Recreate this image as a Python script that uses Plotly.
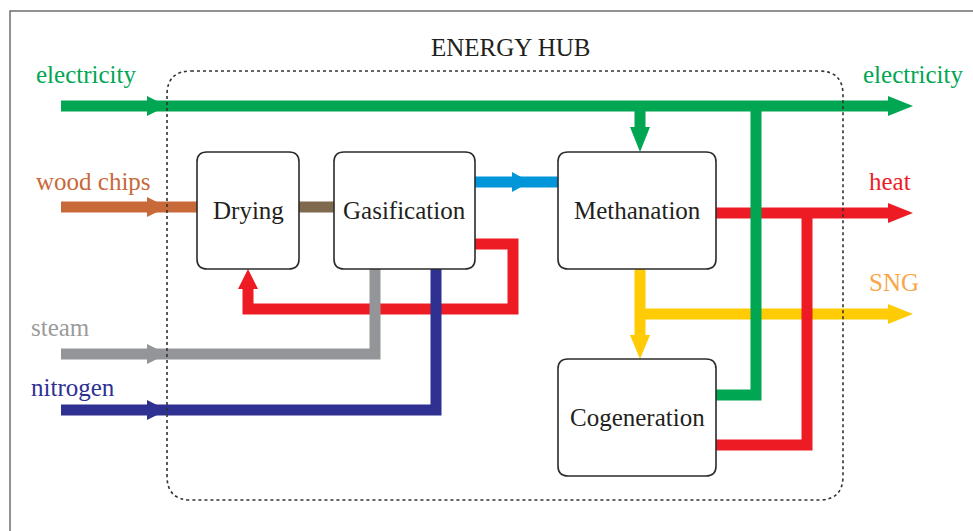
import plotly.graph_objects as go

# ---------------- data ----------------
W, H = 973, 531
FONT = "Liberation Serif, Times New Roman, serif"
FONT_SIZE = 25

# colours
GREEN = "#00A651"
ORANGE = "#C8693A"
BROWN = "#7F6A4F"
BLUE = "#0096D9"
RED = "#ED1C24"
GREY = "#939598"
NAVY = "#2E3192"
YELLOW = "#FFCB05"

# process boxes: name, x0, y0, x1, y1
box_names = ["Drying", "Gasification", "Methanation", "Cogeneration"]
box_x0 = [197, 334, 558, 558]
box_y0 = [152, 152, 152, 359]
box_x1 = [299, 475, 716, 716]
box_y1 = [269, 269, 269, 476]

# energy hub border
hub_x0, hub_y0, hub_x1, hub_y1 = 167, 71, 843, 500

# flows (centre lines), drawn in list order (later on top)
flow_colors = [YELLOW, RED, RED, GREEN, GREEN, GREEN,
               ORANGE, BROWN, BLUE, RED, GREY, NAVY, YELLOW]
flow_x = [
    [640, 890],                 # SNG out
    [716, 890],                 # heat out
    [716, 807, 807],            # heat from cogeneration
    [716, 756, 756],            # electricity from cogeneration
    [61, 890],                  # electricity main
    [640, 640],                 # electricity to methanation
    [61, 197],                  # wood chips
    [299, 334],                 # drying -> gasification
    [475, 558],                 # gasification -> methanation
    [475, 513, 513, 248, 248],  # heat loop to drying
    [375, 375, 61],             # steam
    [436, 436, 61],             # nitrogen
    [640, 640],                 # SNG to cogeneration
]
flow_y = [
    [314, 314],
    [213, 213],
    [445, 445, 213],
    [395, 395, 106],
    [106, 106],
    [106, 130],
    [207, 207],
    [207, 207],
    [182, 182],
    [244, 244, 309, 309, 289],
    [269, 354, 354],
    [269, 410, 410],
    [269, 337],
]

# arrow heads: tip x, tip y, direction, colour, length
arrow_x = [913, 913, 913, 640, 167, 167, 530, 248, 167, 167, 640]
arrow_y = [314, 213, 106, 152, 106, 207, 182, 269, 354, 410, 359]
arrow_dir = ["r", "r", "r", "d", "r", "r", "r", "u", "r", "r", "d"]
arrow_col = [YELLOW, RED, GREEN, GREEN, GREEN, ORANGE, BLUE, RED, GREY, NAVY, YELLOW]
arrow_len = [25, 25, 25, 25, 20, 20, 18, 20, 20, 20, 24]

# stream labels
label_text = ["electricity", "wood chips", "steam", "nitrogen",
              "electricity", "heat", "SNG"]
label_x = [34, 34, 29, 29, 861, 867, 867]
label_y = [74, 181, 327, 387, 74, 181, 282]
label_col = [GREEN, ORANGE, "#9B9B9B", NAVY, GREEN, RED, "#F9A64A"]

title_text = "ENERGY HUB"
title_x, title_y = 511, 47

LINE_W = 11
HALF_HEAD = 10

# ---------------- figure ----------------
fig = go.Figure()


def rrect(x0, y0, x1, y1, r):
    return (f"M{x0+r},{y0} L{x1-r},{y0} Q{x1},{y0} {x1},{y0+r} "
            f"L{x1},{y1-r} Q{x1},{y1} {x1-r},{y1} L{x0+r},{y1} "
            f"Q{x0},{y1} {x0},{y1-r} L{x0},{y0+r} Q{x0},{y0} {x0+r},{y0} Z")


def head(tx, ty, d, L, w):
    if d == "r":
        return [tx - L, tx, tx - L, tx - L], [ty - w, ty, ty + w, ty - w]
    if d == "l":
        return [tx + L, tx, tx + L, tx + L], [ty - w, ty, ty + w, ty - w]
    if d == "d":
        return [tx - w, tx, tx + w, tx - w], [ty - L, ty, ty - L, ty - L]
    return [tx - w, tx, tx + w, tx - w], [ty + L, ty, ty + L, ty + L]


for xs, ys, c in zip(flow_x, flow_y, flow_colors):
    fig.add_trace(go.Scatter(x=xs, y=ys, mode="lines",
                             line=dict(color=c, width=LINE_W),
                             hoverinfo="skip", showlegend=False))

for tx, ty, d, c, L in zip(arrow_x, arrow_y, arrow_dir, arrow_col, arrow_len):
    hx, hy = head(tx, ty, d, L, HALF_HEAD)
    fig.add_trace(go.Scatter(x=hx, y=hy, mode="lines", fill="toself",
                             fillcolor=c, line=dict(color=c, width=0),
                             hoverinfo="skip", showlegend=False))

shapes = []
# outer frame
shapes.append(dict(type="rect", xref="x", yref="y", x0=10, y0=11, x1=1000, y1=600,
                   line=dict(color="#6E6E6E", width=1.5), layer="above"))
# hub border
shapes.append(dict(type="path", xref="x", yref="y",
                   path=rrect(hub_x0, hub_y0, hub_x1, hub_y1, 24),
                   line=dict(color="#333333", width=1.6, dash="dot"), layer="above"))
# boxes
for x0, y0, x1, y1 in zip(box_x0, box_y0, box_x1, box_y1):
    shapes.append(dict(type="path", xref="x", yref="y", path=rrect(x0, y0, x1, y1, 10),
                       fillcolor="white", line=dict(color="#2B2B2B", width=1.6),
                       layer="above"))

annotations = []
for n, x0, y0, x1, y1 in zip(box_names, box_x0, box_y0, box_x1, box_y1):
    annotations.append(dict(x=(x0 + x1) / 2, y=(y0 + y1) / 2, xref="x", yref="y",
                            text=n, showarrow=False,
                            font=dict(family=FONT, size=FONT_SIZE, color="#231F20"),
                            xanchor="center", yanchor="middle"))
for t, x, y, c in zip(label_text, label_x, label_y, label_col):
    annotations.append(dict(x=x, y=y, xref="x", yref="y", text=t, showarrow=False,
                            font=dict(family=FONT, size=FONT_SIZE, color=c),
                            xanchor="left", yanchor="middle"))
annotations.append(dict(x=title_x, y=title_y, xref="x", yref="y", text=title_text,
                        showarrow=False,
                        font=dict(family=FONT, size=FONT_SIZE, color="#231F20"),
                        xanchor="center", yanchor="middle"))

fig.update_layout(
    width=W, height=H,
    margin=dict(l=0, r=0, t=0, b=0),
    paper_bgcolor="white", plot_bgcolor="white",
    xaxis=dict(range=[0, W], visible=False, fixedrange=True),
    yaxis=dict(range=[H, 0], visible=False, fixedrange=True),
    shapes=shapes, annotations=annotations, showlegend=False,
)

fig.write_html("out.html", config={"displayModeBar": False},
               post_script="document.body.style.margin='0px';"
                           "document.body.style.overflow='hidden';")
